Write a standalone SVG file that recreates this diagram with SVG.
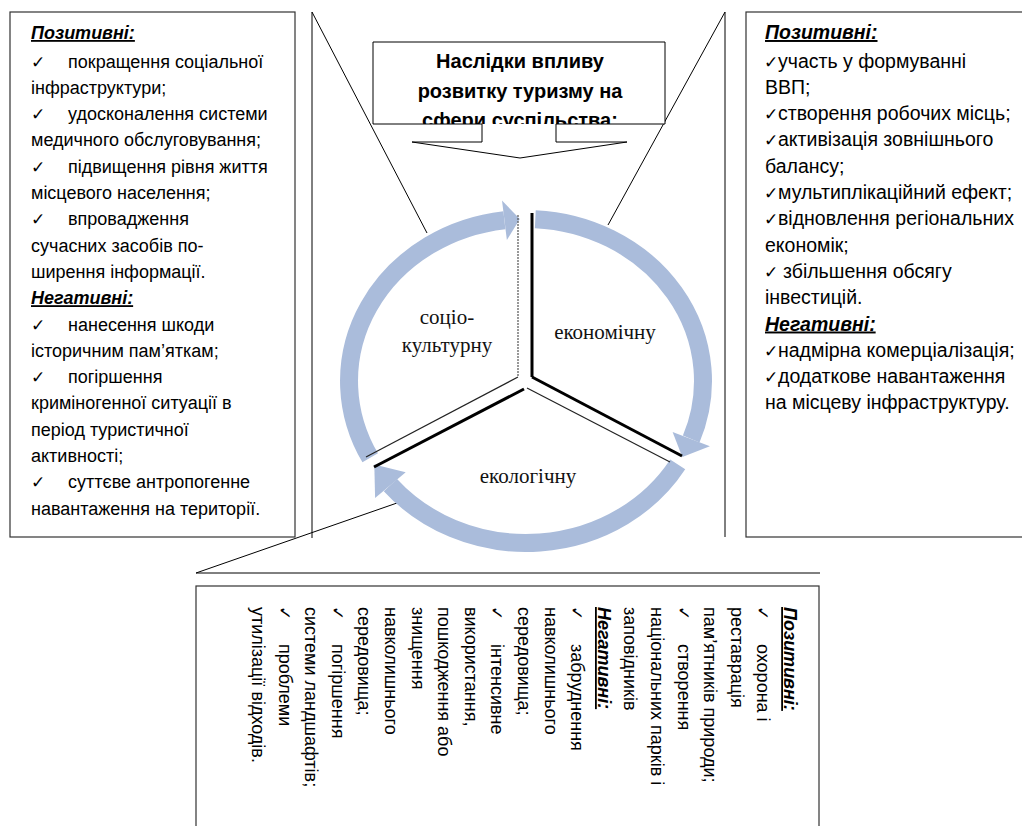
<svg xmlns="http://www.w3.org/2000/svg" width="1022" height="826" viewBox="0 0 1022 826">
<style>
.box{fill:#fff;stroke:#333;stroke-width:1.2}
.ln{fill:none;stroke:#000;stroke-width:1}
.t{font-family:"Liberation Sans",Arial,sans-serif;font-size:18px;fill:#000}
.r{font-size:19.5px}
.h{font-weight:bold;font-style:italic;text-decoration:underline}
.ck{font-family:"DejaVu Sans",sans-serif;font-size:17px;fill:#000}
.ring{fill:none;stroke:#aabcdb;stroke-width:18}
.arr{fill:#aabcdb}
.c{font-family:"Liberation Serif","Times New Roman",serif;font-size:21px;text-anchor:middle;fill:#111}
.ttl{font-family:"Liberation Sans",Arial,sans-serif;font-size:20px;font-weight:bold;text-anchor:middle;fill:#000}
.thk{stroke:#000;stroke-width:3;fill:none}
.thn{stroke:#222;stroke-width:1.2;fill:none}
</style>
<defs>
<clipPath id="tclip"><rect x="373" y="42" width="292" height="82"/></clipPath>
</defs>
<rect width="1022" height="826" fill="#fff"/>

<g id="connectors">
<line class="ln" x1="312" y1="12" x2="312" y2="538"/>
<line class="ln" x1="312" y1="12" x2="427" y2="233"/>
<line class="ln" x1="725" y1="12" x2="725" y2="537"/>
<line class="ln" x1="725" y1="12" x2="608" y2="225"/>
<line class="ln" x1="196" y1="573" x2="820" y2="573"/>
<line class="ln" x1="196" y1="573" x2="397" y2="503"/>
</g>

<g id="left-box">
<rect class="box" x="10" y="12" width="285" height="525"/>
<text class="t h" x="31" y="39">Позитивні:</text>
<text class="ck" x="31" y="67.5">✓</text><text class="t" x="68" y="67.5">покращення соціальної</text>
<text class="t" x="31" y="93.8">інфраструктури;</text>
<text class="ck" x="31" y="120.1">✓</text><text class="t" x="68" y="120.1">удосконалення системи</text>
<text class="t" x="31" y="146.4">медичного обслуговування;</text>
<text class="ck" x="31" y="172.7">✓</text><text class="t" x="68" y="172.7">підвищення рівня життя</text>
<text class="t" x="31" y="199">місцевого населення;</text>
<text class="ck" x="31" y="225.3">✓</text><text class="t" x="68" y="225.3">впровадження</text>
<text class="t" x="31" y="251.6">сучасних засобів по-</text>
<text class="t" x="31" y="277.9">ширення інформації.</text>
<text class="t h" x="31" y="304.2">Негативні:</text>
<text class="ck" x="31" y="330.5">✓</text><text class="t" x="68" y="330.5">нанесення шкоди</text>
<text class="t" x="31" y="356.8">історичним пам’яткам;</text>
<text class="ck" x="31" y="383.1">✓</text><text class="t" x="68" y="383.1">погіршення</text>
<text class="t" x="31" y="409.4">криміногенної ситуації в</text>
<text class="t" x="31" y="435.7">період туристичної</text>
<text class="t" x="31" y="462">активності;</text>
<text class="ck" x="31" y="488.3">✓</text><text class="t" x="68" y="488.3">суттєве антропогенне</text>
<text class="t" x="31" y="514.6">навантаження на території.</text>
</g>

<g id="right-box">
<rect class="box" x="746" y="12" width="290" height="525"/>
<text class="t r h" x="765" y="39">Позитивні:</text>
<text class="ck" x="764" y="67.5">✓</text><text class="t r" x="778" y="67.5">участь у формуванні</text>
<text class="t r" x="765" y="93.8">ВВП;</text>
<text class="ck" x="764" y="120.1">✓</text><text class="t r" x="778" y="120.1">створення робочих місць;</text>
<text class="ck" x="764" y="146.4">✓</text><text class="t r" x="778" y="146.4">активізація зовнішнього</text>
<text class="t r" x="765" y="172.7">балансу;</text>
<text class="ck" x="764" y="199">✓</text><text class="t r" x="778" y="199">мультиплікаційний ефект;</text>
<text class="ck" x="764" y="225.3">✓</text><text class="t r" x="778" y="225.3">відновлення регіональних</text>
<text class="t r" x="765" y="251.6">економік;</text>
<text class="ck" x="764" y="277.9">✓</text><text class="t r" x="783" y="277.9">збільшення обсягу</text>
<text class="t r" x="765" y="304.2">інвестицій.</text>
<text class="t r h" x="765" y="330.5">Негативні:</text>
<text class="ck" x="764" y="356.8">✓</text><text class="t r" x="778" y="356.8">надмірна комерціалізація;</text>
<text class="ck" x="764" y="383.1">✓</text><text class="t r" x="778" y="383.1">додаткове навантаження</text>
<text class="t r" x="765" y="409.4">на місцеву інфраструктуру.</text>
</g>

<g id="title">
<path class="box" d="M373,42 H665 V124 H556 V142 H627 L520,158 L412,142 H482 V124 H373 Z" style="stroke:#000;stroke-width:1"/>
<g clip-path="url(#tclip)">
<text class="ttl" x="520" y="68">Наслідки впливу</text>
<text class="ttl" x="520" y="97.5">розвитку туризму на</text>
<text class="ttl" x="520" y="127">сфери суспільства:</text>
</g>
</g>

<g id="cycle">
<path class="ring" d="M370.2,457.8 A177,162 0 0 1 504.4,220.2"/>
<polygon class="arr" points="502,200.4 519.8,219.1 506.9,240.1"/>
<path class="ring" d="M535.3,219.2 A177,162 0 0 1 691.2,439.1"/>
<polygon class="arr" points="709.9,446.2 682.3,457.1 672.6,431.9"/>
<path class="ring" d="M677.7,464.4 A177,162 0 0 1 390.4,485.1"/>
<polygon class="arr" points="375.1,498 374.3,464.4 405.7,472.3"/>
<line x1="518" y1="215" x2="518" y2="377" stroke="#555" stroke-width="1.2" stroke-dasharray="2,1"/>
<line class="thn" x1="518" y1="377" x2="366" y2="457"/>
<line class="thk" x1="532" y1="213" x2="532" y2="377"/>
<line class="thk" x1="532" y1="377" x2="682" y2="456"/>
<line class="thn" x1="527" y1="388" x2="670" y2="462"/>
<line class="thk" x1="524" y1="389" x2="374" y2="467"/>
</g>

<g id="node-socio"><text class="c" x="447" y="324">соціо-</text><text class="c" x="447" y="352">культурну</text></g>
<g id="node-econ"><text class="c" x="605" y="339">економічну</text></g>
<g id="node-eco"><text class="c" x="528" y="483">екологічну</text></g>

<g id="bottom-box">
<rect class="box" x="196" y="586" width="623" height="260"/>
<g transform="rotate(90)">
<text class="t h" x="607" y="-784">Позитивні:</text>
<text class="ck" x="606" y="-757.4">✓</text><text class="t" x="644" y="-757.4">охорона і</text>
<text class="t" x="607" y="-730.8">реставрація</text>
<text class="t" x="607" y="-704.2">пам’ятників природи;</text>
<text class="ck" x="606" y="-677.6">✓</text><text class="t" x="644" y="-677.6">створення</text>
<text class="t" x="607" y="-651">національних парків і</text>
<text class="t" x="607" y="-624.4">заповідників</text>
<text class="t h" x="607" y="-597.8">Негативні:</text>
<text class="ck" x="606" y="-571.2">✓</text><text class="t" x="644" y="-571.2">забруднення</text>
<text class="t" x="607" y="-544.6">навколишнього</text>
<text class="t" x="607" y="-518">середовища;</text>
<text class="ck" x="606" y="-491.4">✓</text><text class="t" x="644" y="-491.4">інтенсивне</text>
<text class="t" x="607" y="-464.8">використання,</text>
<text class="t" x="607" y="-438.2">пошкодження або</text>
<text class="t" x="607" y="-411.6">знищення</text>
<text class="t" x="607" y="-385">навколишнього</text>
<text class="t" x="607" y="-358.4">середовища;</text>
<text class="ck" x="606" y="-331.8">✓</text><text class="t" x="644" y="-331.8">погіршення</text>
<text class="t" x="607" y="-305.2">системи ландшафтів;</text>
<text class="ck" x="606" y="-278.6">✓</text><text class="t" x="644" y="-278.6">проблеми</text>
<text class="t" x="607" y="-252">утилізації відходів.</text>
</g>
</g>
</svg>
